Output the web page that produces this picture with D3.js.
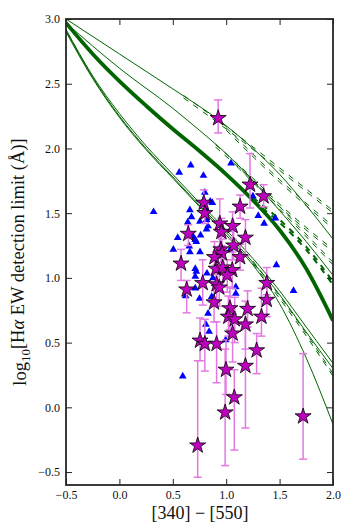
<!DOCTYPE html>
<html>
<head>
<meta charset="utf-8">
<script src="https://cdn.jsdelivr.net/npm/d3@7"></script>
<style>
  body { margin: 0; background: #fff; }
  svg { display: block; }
  text { font-family: "Liberation Serif", "Times New Roman", serif; }
</style>
</head>
<body>
<script>
// ---- data ----
const xTicks = [-0.5, 0.0, 0.5, 1.0, 1.5, 2.0];
const yTicks = [-0.5, 0.0, 0.5, 1.0, 1.5, 2.0, 2.5, 3.0];

// model curves [color, log EW limit]
const thickSolid = [[-0.5,2.97],[-0.25,2.73],[0.0,2.52],[0.25,2.33],[0.5,2.15],[0.75,1.98],[1.0,1.80],[1.25,1.60],[1.5,1.37],[1.75,1.07],[2.0,0.67]];
const thickDashed = [[1.25,1.62],[1.5,1.45],[1.75,1.24],[2.0,0.97]];
const upperSolid1 = [[-0.5,3.0],[0.0,2.73],[0.5,2.46],[0.93,2.22],[1.25,2.0],[1.5,1.80],[1.75,1.56],[2.0,1.30]];
const upperSolid2 = [[-0.5,2.97],[0.0,2.62],[0.5,2.31],[0.75,2.14],[1.0,1.96],[1.25,1.75],[1.5,1.52],[1.75,1.28],[2.0,1.02]];
const upperDashed1 = [[0.6,2.41],[1.0,2.17],[1.5,1.85],[2.0,1.52]];
const upperDashed2 = [[1.0,2.16],[1.5,1.76],[2.0,1.40]];
const upperDashed3 = [[0.9,2.03],[1.25,1.77],[1.5,1.57],[2.0,1.22]];
const upperDashed4 = [[1.1,1.88],[1.5,1.55],[2.0,1.12]];
const lowerSolid1 = [[-0.5,2.92],[-0.25,2.56],[0.0,2.27],[0.25,2.02],[0.5,1.80],[0.75,1.58],[1.0,1.37],[1.25,1.15],[1.5,0.90],[1.75,0.62],[2.0,0.34]];
const lowerSolid2 = [[-0.5,2.91],[-0.25,2.55],[0.0,2.25],[0.25,2.0],[0.5,1.78],[0.75,1.56],[1.0,1.35],[1.25,1.12],[1.5,0.87],[1.75,0.58],[2.0,0.30]];
const lowerSolid3 = [[-0.5,2.90],[-0.25,2.54],[0.0,2.24],[0.25,1.99],[0.5,1.77],[0.75,1.55],[1.0,1.33],[1.25,1.10],[1.5,0.80],[1.75,0.38],[2.0,-0.13]];
const lowerDashed = [[1.25,1.13],[1.5,0.86],[1.75,0.57],[2.0,0.26]];

// blue triangles [color, log EW limit]
const triX = [0.56,0.668,0.787,1.045,0.32,0.80,0.79,0.85,0.87,0.66,0.675,0.64,0.816,0.83,0.816,0.546,0.69,0.71,0.72,0.76,0.505,0.654,0.66,0.755,1.035,1.30,1.355,1.25,1.46,1.47,1.63,0.71,0.72,0.71,0.82,0.875,0.71,0.75,0.864,1.09,1.09,0.83,0.81,0.84,0.995,0.593,0.816,0.754,0.62];
const triY = [1.815,1.87,1.79,1.885,1.51,1.66,1.60,1.59,1.58,1.525,1.47,1.43,1.45,1.40,1.375,1.31,1.32,1.295,1.28,1.33,1.22,1.245,1.20,1.20,1.215,1.48,1.42,1.63,1.46,1.10,0.90,1.07,1.05,1.01,1.035,1.0,0.92,0.84,0.855,0.93,0.88,0.725,0.64,0.585,0.52,0.24,1.52,1.435,0.86];

// magenta stars with error bars
const starX  = [0.925,1.223,1.35,0.79,1.13,0.80,0.94,1.06,0.645,0.955,1.18,1.07,0.95,0.96,0.89,1.13,0.577,0.905,0.967,1.057,1.01,1.38,0.78,0.91,0.935,0.63,0.886,1.38,1.035,1.20,1.02,1.08,1.33,1.18,1.06,0.755,0.80,0.91,1.285,0.998,1.18,1.076,0.99,0.733,1.72];
const starY  = [2.234,1.72,1.63,1.58,1.55,1.50,1.42,1.40,1.34,1.355,1.31,1.25,1.22,1.19,1.16,1.16,1.11,1.07,1.08,1.06,1.02,0.96,0.96,0.95,0.925,0.91,0.81,0.83,0.765,0.76,0.70,0.68,0.70,0.64,0.57,0.515,0.49,0.49,0.44,0.29,0.32,0.077,-0.04,-0.295,-0.07];
const starLo = [2.12,1.54,1.55,1.47,1.46,1.42,1.23,1.30,1.25,1.25,1.17,1.14,1.12,1.08,1.03,1.06,0.98,0.94,0.93,0.92,0.89,0.87,0.79,0.80,0.78,0.73,0.66,0.70,0.60,0.62,0.55,0.50,0.55,0.45,0.35,0.36,0.28,0.19,0.26,0.10,-0.16,-0.33,-0.45,-0.54,-0.40];
const starHi = [2.375,1.96,1.72,1.68,1.64,1.58,1.61,1.51,1.41,1.46,1.45,1.36,1.32,1.30,1.28,1.26,1.22,1.20,1.22,1.20,1.14,1.08,1.14,1.10,1.06,0.98,0.96,0.96,0.93,0.90,0.86,0.85,0.92,0.82,0.78,0.69,0.68,0.66,0.57,0.52,0.62,0.29,0.45,0.36,0.415];

(function() {
    const W = 342, H = 528;
    const mL = 66, mR = 333, mT = 19, mB = 485;
    const serif = '"Liberation Serif", "Times New Roman", serif';

    const svg = d3.select('body').append('svg')
        .attr('width', W)
        .attr('height', H)
        .attr('font-family', serif);

    const x = d3.scaleLinear().domain([-0.5, 2.0]).range([mL, mR]);
    const y = d3.scaleLinear().domain([-0.6, 3.0]).range([mB, mT]);

    svg.append('clipPath').attr('id', 'plot')
        .append('rect')
        .attr('x', mL).attr('y', mT)
        .attr('width', mR - mL).attr('height', mB - mT);

    const plot = svg.append('g').attr('clip-path', 'url(#plot)');

    const line = d3.line()
        .x(d => x(d[0]))
        .y(d => y(d[1]))
        .curve(d3.curveMonotoneX);

    const green = '#006400';

    function drawCurve(pts, width, dash, offsets) {
        (offsets || [0]).forEach(off => {
            plot.append('path')
                .datum(pts)
                .attr('d', line)
                .attr('transform', 'translate(0,' + off + ')')
                .attr('fill', 'none')
                .attr('stroke', green)
                .attr('stroke-width', width)
                .attr('stroke-dasharray', dash || null);
        });
    }

    drawCurve(upperSolid1, 1);
    drawCurve(upperSolid2, 1);
    drawCurve(upperDashed1, 1, '6,6', [0, 2.5]);
    drawCurve(upperDashed2, 1, '6,6', [0, 2.5]);
    drawCurve(upperDashed3, 1, '6,6', [0, 2.5]);
    drawCurve(upperDashed4, 1, '6,6', [0, 2.5]);
    drawCurve(thickDashed, 2, '6,6', [0, 3]);
    drawCurve(thickSolid, 3.8);
    drawCurve(lowerSolid1, 1);
    drawCurve(lowerSolid2, 1);
    drawCurve(lowerSolid3, 1);
    drawCurve(lowerDashed, 1, '6,6', [0, 2.5]);

    // triangles
    plot.selectAll('.tri')
        .data(triX.map((v, i) => [v, triY[i]]))
        .enter()
        .append('path')
        .attr('class', 'tri')
        .attr('d', d3.symbol(d3.symbolTriangle, 26))
        .attr('transform', d => 'translate(' + x(d[0]) + ',' + y(d[1]) + ')')
        .attr('fill', '#0000ff');

    // error bars
    const stars = starX.map((v, i) => ({x: v, y: starY[i], lo: starLo[i], hi: starHi[i]}));
    const err = plot.selectAll('.err')
        .data(stars)
        .enter()
        .append('g')
        .attr('class', 'err')
        .attr('stroke', '#e27ae2')
        .attr('stroke-width', 1.5);
    err.append('line')
        .attr('x1', d => x(d.x)).attr('x2', d => x(d.x))
        .attr('y1', d => y(d.lo)).attr('y2', d => y(d.hi));
    err.append('line')
        .attr('x1', d => x(d.x) - 4).attr('x2', d => x(d.x) + 4)
        .attr('y1', d => y(d.lo)).attr('y2', d => y(d.lo));
    err.append('line')
        .attr('x1', d => x(d.x) - 4).attr('x2', d => x(d.x) + 4)
        .attr('y1', d => y(d.hi)).attr('y2', d => y(d.hi));

    // stars
    plot.selectAll('.star')
        .data(stars)
        .enter()
        .append('path')
        .attr('class', 'star')
        .attr('d', d3.symbol(d3.symbolStar, 80))
        .attr('transform', d => 'translate(' + x(d.x) + ',' + y(d.y) + ')')
        .attr('fill', '#bf00bf')
        .attr('stroke', '#000')
        .attr('stroke-width', 0.8);

    // axes, ticks pointing inward on all four sides
    const fmt = d => d3.format('.1f')(d).replace('-', '\u2212');

    const xAxis = svg.append('g')
        .attr('transform', 'translate(0,' + mB + ')')
        .call(d3.axisBottom(x).tickValues(xTicks).tickFormat(fmt).tickSizeInner(-6).tickSizeOuter(0).tickPadding(5));
    const xTop = svg.append('g')
        .attr('transform', 'translate(0,' + mT + ')')
        .call(d3.axisTop(x).tickValues(xTicks).tickFormat('').tickSizeInner(-6).tickSizeOuter(0));
    const yAxis = svg.append('g')
        .attr('transform', 'translate(' + mL + ',0)')
        .call(d3.axisLeft(y).tickValues(yTicks).tickFormat(fmt).tickSizeInner(-6).tickSizeOuter(0).tickPadding(6));
    const yRight = svg.append('g')
        .attr('transform', 'translate(' + mR + ',0)')
        .call(d3.axisRight(y).tickValues(yTicks).tickFormat('').tickSizeInner(-6).tickSizeOuter(0));

    [xAxis, xTop, yAxis, yRight].forEach(g => {
        g.attr('font-family', serif).attr('font-size', 12);
        g.select('.domain').remove();
        g.selectAll('line').attr('stroke', '#222').attr('stroke-width', 1);
        g.selectAll('text').attr('fill', '#111');
    });

    svg.append('rect')
        .attr('x', mL).attr('y', mT)
        .attr('width', mR - mL).attr('height', mB - mT)
        .attr('fill', 'none')
        .attr('stroke', '#262626')
        .attr('stroke-width', 1.8);

    // axis labels
    svg.append('text')
        .attr('x', 200)
        .attr('y', 519)
        .attr('text-anchor', 'middle')
        .attr('font-size', 18)
        .attr('fill', '#111')
        .text('[340] \u2212 [550]');

    const yl = svg.append('text')
        .attr('transform', 'translate(26,262) rotate(-90)')
        .attr('text-anchor', 'middle')
        .attr('font-size', 18.5)
        .attr('fill', '#111');
    yl.append('tspan').text('log');
    yl.append('tspan').attr('dy', '0.3em').attr('font-size', 13).text('10');
    yl.append('tspan').attr('dy', '-0.3em').text('[H');
    yl.append('tspan').attr('font-style', 'italic').text('\u03b1');
    yl.append('tspan').text(' EW detection limit (\u00c5)]');
})();
</script>
</body>
</html>
